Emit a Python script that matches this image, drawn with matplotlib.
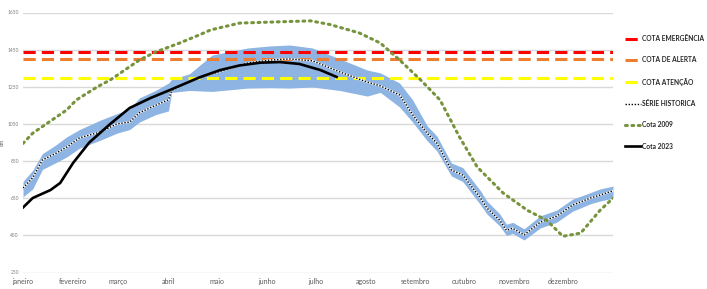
import numpy as np
import matplotlib
matplotlib.use('Agg')
from matplotlib import pyplot as plt

plt.rcParams['font.family'] = ['Lato', 'DejaVu Sans']

# month labels (day of year of month start)
meses = ['janeiro', 'fevereiro', 'março', 'abril', 'maio', 'junho',
         'julho', 'agosto', 'setembro', 'outubro', 'novembro', 'dezembro']
inicio_mes = [1, 32, 60, 91, 121, 152, 182, 213, 244, 274, 305, 335]

# reference levels
cota_emergencia = 1440
cota_alerta = 1400
cota_atencao = 1300

# historic series + band (min / max)
dias_hist = [1, 7, 13, 21, 28, 36, 49, 59, 67, 73, 83, 91, 93, 104, 118, 140, 154,
             166, 180, 197, 214, 222, 234, 242, 251, 257, 266, 273, 284, 288, 296,
             300, 304, 311, 321, 331, 341, 352, 358, 366]
serie_hist = [705, 760, 856, 890, 925, 975, 1007, 1050, 1060, 1110, 1150, 1180, 1230,
              1280, 1320, 1378, 1394, 1400, 1390, 1330, 1275, 1255, 1206, 1100, 1000,
              947, 802, 775, 651, 597, 531, 477, 488, 452, 521, 553, 613, 651, 667, 690]
faixa_min = [657, 700, 805, 840, 872, 920, 963, 1000, 1020, 1060, 1100, 1120, 1220,
             1230, 1225, 1243, 1245, 1243, 1249, 1230, 1200, 1220, 1141, 1060, 960,
             905, 770, 740, 615, 565, 500, 450, 460, 425, 490, 520, 580, 620, 635, 650]
faixa_max = [740, 800, 890, 935, 980, 1020, 1071, 1105, 1130, 1190, 1230, 1270, 1290,
             1320, 1421, 1459, 1470, 1475, 1459, 1400, 1340, 1325, 1270, 1180, 1040,
             985, 840, 815, 690, 635, 565, 510, 520, 485, 555, 585, 645, 680, 700, 715]

# 2009
dias_2009 = [1, 7, 28, 34, 47, 55, 73, 83, 90, 98, 110, 117, 135, 160, 179, 191, 209,
             222, 234, 247, 259, 271, 282, 298, 313, 325, 335, 346, 358, 366]
cota_2009 = [945, 1000, 1125, 1179, 1250, 1287, 1394, 1437, 1460, 1486, 1529, 1556,
             1593, 1600, 1605, 1585, 1540, 1486, 1394, 1287, 1179, 980, 818, 678, 585,
             531, 445, 462, 585, 650]

# 2023
dias_2023 = [1, 7, 18, 24, 32, 42, 55, 67, 80, 92, 110, 123, 135, 148, 160, 172, 185, 195]
cota_2023 = [600, 651, 694, 732, 840, 950, 1050, 1136, 1190, 1233, 1300, 1340, 1365,
             1380, 1383, 1373, 1340, 1303]

fig = plt.figure(figsize=(7.07, 2.89), dpi=100)
ax = fig.add_axes([23 / 707, 16.5 / 289, 590 / 707, 260 / 289])

ax.fill_between(dias_hist, faixa_min, faixa_max, color='#8DB4E2', lw=0, zorder=1)

ax.axhline(cota_emergencia, color='#FF0000', ls=(0, (4, 2)), lw=2.2, zorder=2,
           label='COTA EMERGÊNCIA')
ax.axhline(cota_alerta, color='#ED7D31', ls=(0, (4, 2)), lw=2.2, zorder=2,
           label='COTA DE ALERTA')
ax.axhline(cota_atencao, color='#FFFF00', ls=(0, (4, 2)), lw=2.2, zorder=2,
           label='COTA ATENÇÃO')

ax.plot(dias_hist, serie_hist, color='white', lw=1.3, zorder=3)
ax.plot(dias_hist, serie_hist, color='black', ls=(0, (1, 1.2)), lw=1.0, zorder=4,
        label='SÉRIE HISTORICA')
ax.plot(dias_2009, cota_2009, color='#77933C', ls=(0, (0.6, 1.5)), lw=2.2,
        dash_capstyle='round', zorder=5, label='Cota 2009')
ax.plot(dias_2023, cota_2023, color='black', lw=1.9, zorder=6, label='Cota 2023')

ax.set_xlim(1, 366)
ax.set_ylim(250, 1650)
ax.set_yticks(np.arange(250, 1651, 200))
ax.set_xticks(inicio_mes)
ax.set_xticklabels(meses)
ax.tick_params(axis='x', length=0, labelsize=5, labelcolor='#595959', pad=4)
ax.tick_params(axis='y', length=0, labelsize=3.5, labelcolor='#7F7F7F', pad=3)
ax.grid(axis='y', color='#D9D9D9', lw=1)
ax.set_axisbelow(True)
for s in ax.spines.values():
    s.set_visible(False)
ax.set_ylabel('cm', fontsize=4, color='#595959', labelpad=2)

fig.legend(*ax.get_legend_handles_labels(), loc='upper left',
           bbox_to_anchor=(625 / 707, 1 - 35 / 289), frameon=False,
           fontsize=4.8, handlelength=2.4, handletextpad=0.15, labelspacing=2.15,
           borderaxespad=0, borderpad=0)
for t in fig.legends[0].get_texts():
    t.set_fontweight('bold')
    t.set_color('#262626')

fig.savefig('out.png', dpi=100)
